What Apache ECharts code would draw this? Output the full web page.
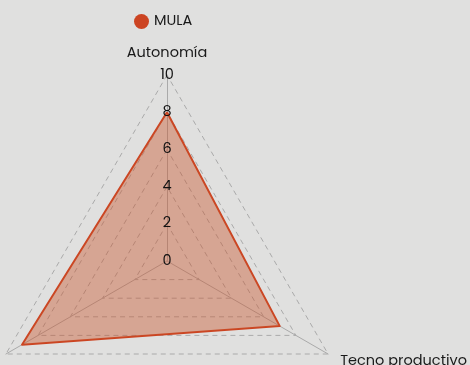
<!DOCTYPE html>
<html>
<head>
<meta charset="utf-8">
<script src="https://cdn.jsdelivr.net/npm/echarts@6/dist/echarts.min.js"></script>
<style>
  html, body { margin: 0; padding: 0; background: #e0e0df; }
  #chart { width: 470px; height: 365px; }
</style>
</head>
<body>
<div id="chart"></div>
<script>
// Radar dimensions and the single series shown
const indicatorNames = ['Autonomía', 'Cooperación', 'Tecno productivo'];
const indicatorMax = 10;
const seriesName = 'MULA';
const seriesValues = [8, 9, 7];

const FONT = 'Poppins, "Noto Sans", sans-serif';
const CENTER = [167, 261];
const RADIUS = 186;
const chart = echarts.init(document.getElementById('chart'));

const indicators = indicatorNames.map(name => ({ name: name, max: indicatorMax, min: 0 }));

chart.setOption({
  backgroundColor: '#e0e0df',
  animation: false,
  legend: {
    data: [seriesName],
    left: 129,
    top: 9,
    icon: 'circle',
    itemWidth: 15,
    itemHeight: 15,
    itemGap: 10,
    textStyle: { color: '#1a1a1a', fontSize: 14.5, fontFamily: FONT }
  },
  radar: [
    {
      // grid: dashed rings, spokes and indicator names (under the area)
      center: CENTER,
      radius: RADIUS,
      startAngle: 90,
      splitNumber: 5,
      shape: 'polygon',
      nameGap: 14,
      axisName: { color: '#1a1a1a', fontSize: 14.5, fontFamily: FONT },
      axisLine: { show: true, lineStyle: { color: '#aaaaaa', width: 1 } },
      splitLine: { lineStyle: { color: '#aaaaaa', type: [5, 4], width: 1 } },
      splitArea: { show: false },
      axisTick: { show: false },
      axisLabel: { show: false },
      indicator: indicators
    },
    {
      // scale labels on the first spoke, drawn above the area
      z: 5,
      center: CENTER,
      radius: RADIUS,
      startAngle: 90,
      splitNumber: 5,
      shape: 'polygon',
      axisName: { show: false },
      axisLine: { show: false },
      splitLine: { show: false },
      splitArea: { show: false },
      axisTick: { show: false },
      axisLabel: {
        show: false, color: '#111', fontSize: 14.5, fontFamily: FONT,
        margin: 0, align: 'center', verticalAlign: 'middle'
      },
      indicator: indicators.map((ind, i) =>
        i === 0 ? Object.assign({}, ind, { axisLabel: { show: true } }) : Object.assign({}, ind))
    }
  ],
  series: [{
    name: seriesName,
    type: 'radar',
    radarIndex: 0,
    symbol: 'none',
    itemStyle: { color: '#cc4422' },
    lineStyle: { color: '#cc4422', width: 2 },
    areaStyle: { color: '#c9542c', opacity: 0.42 },
    data: [{ value: seriesValues, name: seriesName }]
  }]
});
</script>
</body>
</html>
